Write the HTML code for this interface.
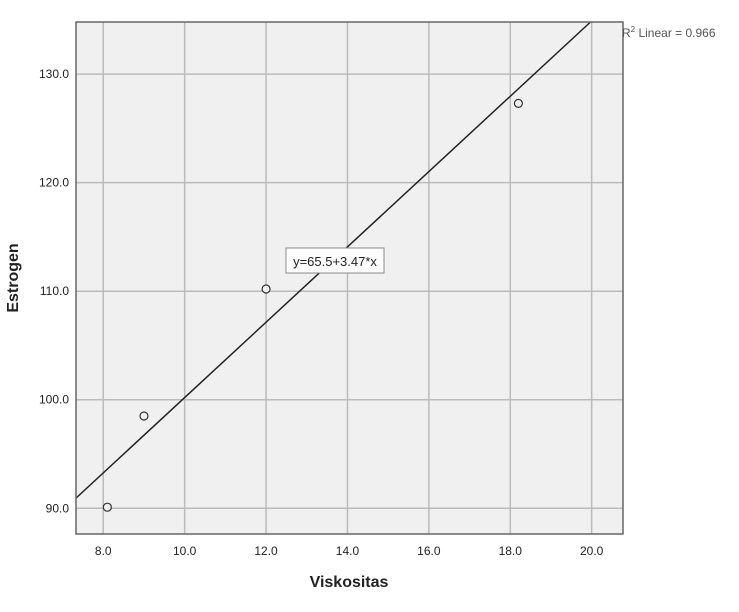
<!DOCTYPE html>
<html><head><meta charset="utf-8"><style>
body{margin:0;background:#fff;font-family:"Liberation Sans",Arial,sans-serif}
</style></head><body>
<svg id="chart" width="739" height="607" xmlns="http://www.w3.org/2000/svg">
<rect x="76" y="22" width="547" height="512" fill="#f0f0f0"/>
<g id="grid"></g>
<g id="marks"></g>
<rect x="76" y="22" width="547" height="512" fill="none" stroke="#666" stroke-width="1.5"/>
<text x="622" y="37" font-size="12" fill="#555">R<tspan font-size="8" dy="-5">2</tspan><tspan dy="5"> Linear = 0.966</tspan></text>
<rect x="286" y="248" width="98" height="25" fill="#fff" stroke="#888"/>
<text x="335" y="266" font-size="13" text-anchor="middle" fill="#222">y=65.5+3.47*x</text>
<text x="349" y="587" font-size="16" font-weight="bold" text-anchor="middle" fill="#222">Viskositas</text>
<text x="18" y="278" font-size="16" font-weight="bold" text-anchor="middle" fill="#222" transform="rotate(-90 18 278)">Estrogen</text>
</svg>
<script>
const xTicks=[8,10,12,14,16,18,20];
const yTicks=[90,100,110,120,130];
const xVals=[8.1,9.0,12.0,18.2];
const yVals=[90.1,98.5,110.2,127.3];
const intercept=65.5, slope=3.47;
const X0=76,X1=623,Y0=534,Y1=22,xmin=7.33,xmax=20.77,ymin=87.63,ymax=134.8;
const sx=v=>X0+(v-xmin)/(xmax-xmin)*(X1-X0);
const sy=v=>Y0-(v-ymin)/(ymax-ymin)*(Y0-Y1);
const NS="http://www.w3.org/2000/svg";
const grid=document.getElementById('grid'),marks=document.getElementById('marks');
function mk(tag,attrs,parent){const e=document.createElementNS(NS,tag);for(const k in attrs)e.setAttribute(k,attrs[k]);parent.appendChild(e);return e;}
xTicks.forEach(t=>{
 const l=mk('line',{x1:sx(t),x2:sx(t),y1:Y1,y2:Y0,stroke:'#bbb','stroke-width':1.5},grid);
 
 
 const tx=mk('text',{x:sx(t),y:555,'font-size':12,'text-anchor':'middle',fill:'#222'},grid);
 tx.textContent=t.toFixed(1);
 
 
});
yTicks.forEach(t=>{
 const l=mk('line',{x1:X0,x2:X1,y1:sy(t),y2:sy(t),stroke:'#bbb','stroke-width':1.5},grid);
 
 
 const tx=mk('text',{x:69,y:sy(t)+4,'font-size':12,'text-anchor':'end',fill:'#222'},grid);
 tx.textContent=t.toFixed(1);
 
 
});
const xe=(ymax-intercept)/slope;
const fl=mk('line',{x1:sx(xmin),y1:sy(intercept+slope*xmin),x2:sx(xe),y2:sy(ymax),stroke:'#222','stroke-width':1.5},marks);


xVals.forEach((v,i)=>{
 const c=mk('circle',{cx:sx(v),cy:sy(yVals[i]),r:4,fill:'#f0f0f0',stroke:'#333','stroke-width':1.2},marks);
 
 
});
</script>
</body></html>
